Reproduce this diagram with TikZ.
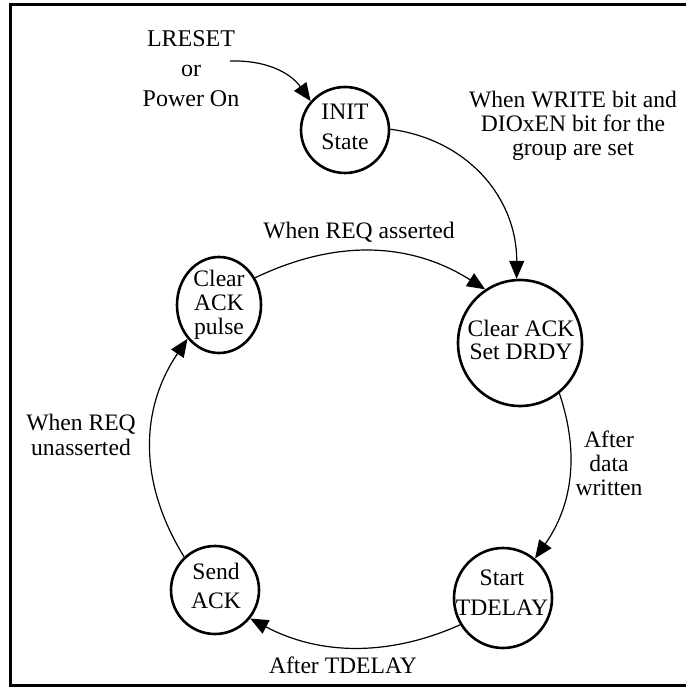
\documentclass[tikz,border=0pt]{standalone}
\usepackage{fontspec}
\setmainfont{Liberation Serif}
\usetikzlibrary{shapes.geometric,arrows.meta}
\begin{document}
\begin{tikzpicture}[x=0.5pt,y=-0.5pt,
  stnode/.style={ellipse, draw, line width=1.3pt, inner sep=0pt},
  stext/.style={align=center, inner sep=0pt, font=\fontsize{11.8}{#1}\selectfont},
  stext/.default=15,
  conn/.style={line width=0.6pt, -{Triangle[length=9pt,width=7.5pt]}},
  frameline/.style={line width=1.5pt}]
\useasboundingbox (0,0) rectangle (686,688);
\draw[frameline] (686,5) -- (10,5) -- (10,685) -- (686,685);

% states
\node[stnode, minimum width=44pt, minimum height=43pt] (init) at (345,130) {};
\node[stnode, minimum width=62pt, minimum height=63pt] (drdy) at (520,343) {};
\node[stnode, minimum width=42pt, minimum height=48pt] (pulse) at (219,305) {};
\node[stnode, minimum width=44pt, minimum height=44pt] (send) at (215,590) {};
\node[stnode, minimum width=49pt, minimum height=50pt] (tdelay) at (503,598) {};

% state texts
\node[stext=15] (initT) at (345,127) {INIT\\State};
\node[stext=11.5] (drdyT) at (521,340) {Clear ACK\\Set DRDY};
\node[stext=12] (pulseT) at (219,305) {Clear\\ACK\\pulse};
\node[stext=14.5] (sendT) at (216,586) {Send\\ACK};
\node[stext=15] (tdelayT) at (502,593) {Start\\TDELAY};

% labels
\node[align=center, inner sep=0pt, font=\fontsize{12}{15}\selectfont] (lreset) at (191,69) {LRESET\\or\\Power On};
\node[align=center, inner sep=0pt, font=\fontsize{11.8}{12}\selectfont] (write) at (573,126) {When WRITE bit and\\DIOxEN bit for the\\group are set};
\node[anchor=base, inner sep=0pt, font=\fontsize{11.8}{14}\selectfont] (reqa) at (359,239) {When REQ asserted};
\node[stext=12.5] (requ) at (81,434.5) {When REQ\\unasserted};
\node[stext=12] (adw) at (609,463) {After\\data\\written};
\node[anchor=base, inner sep=0pt, font=\fontsize{11.8}{14}\selectfont] (atd) at (343,673) {After TDELAY};

% connectors
\coordinate (rst) at (230,61);
\draw[conn] (rst) .. controls (270,60) and (292,75) .. (init.140);
\draw[conn] (init.1) .. controls (470,140) and (517,200) .. (drdy.93);
\draw[conn] (pulse.37) .. controls (338,238) and (412,243) .. (drdy.123);
\draw[conn] (drdy.-52) .. controls (580,454) and (572,506) .. (tdelay.51);
\draw[conn] (tdelay.212) .. controls (388,657) and (319,655) .. (send.-39);
\draw[conn] (send.133) .. controls (138,482) and (140,409) .. (pulse.227);
\end{tikzpicture}
\end{document}
